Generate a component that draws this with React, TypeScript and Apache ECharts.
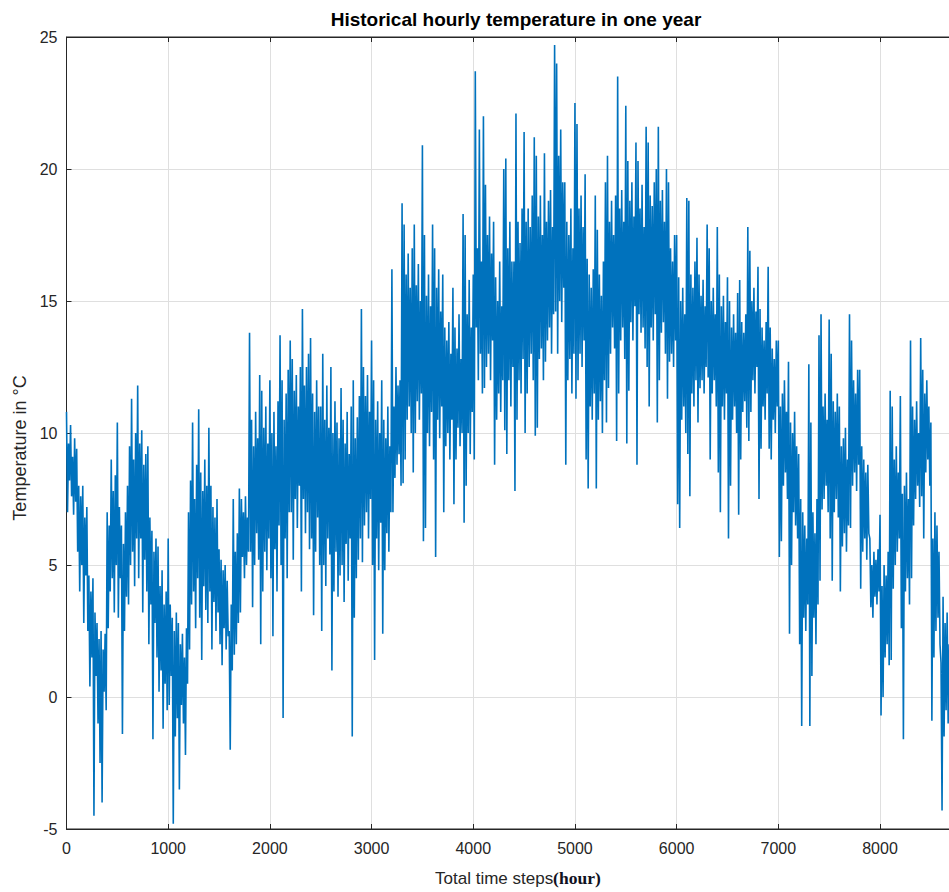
import React, { useEffect, useRef } from "react";
import * as echarts from "echarts";

// Hours between consecutive readings (high / low strokes)
const STEP_HOURS = 10;
const X_MAX = 8760;
const X_TICKS = [0, 1000, 2000, 3000, 4000, 5000, 6000, 7000, 8000];
const Y_TICKS = [-5, 0, 5, 10, 15, 20, 25];

// Temperature readings (°C), 10 per 100 hours, one row per 100 hours
const TEMP_0_1000 = [
  10.8, 7.0, 9.6, 8.2, 10.3, 7.6, 9.1, 6.9, 9.8, 7.4,
  9.4, 5.5, 8.0, 4.0, 7.6, 5.0, 8.0, 2.8, 6.8, 4.6,
  7.2, 2.5, 4.6, 0.4, 4.0, 1.5, 4.5, -4.5, 3.2, 0.8,
  2.8, -1.0, 2.2, -2.5, 2.5, -4.0, 1.8, 0.2, 2.4, -0.5,
  7.0, 2.6, 6.5, 4.0, 9.0, 4.5, 7.8, 3.2, 8.4, 5.0,
  10.4, 3.0, 7.2, 4.5, 6.5, -1.4, 5.8, 2.5, 7.0, 3.8,
  8.0, 3.5, 9.5, 5.0, 11.3, 5.5, 9.0, 4.2, 10.0, 6.0,
  11.8, 4.5, 9.6, 6.0, 10.1, 3.2, 8.8, 5.2, 9.2, 4.0,
  9.5, 2.0, 6.8, 3.5, 6.3, -1.6, 5.5, 2.8, 6.0, 1.5,
  5.7, 0.2, 4.2, 1.0, 4.8, -1.2, 3.5, 0.5, 4.0, -0.5,
];
const TEMP_1000_2000 = [
  6.0, -0.3, 3.5, 0.8, 3.0, -4.8, 2.5, -1.5, 3.2, -0.8,
  2.8, -3.5, 2.0, -0.3, 2.4, -1.0, 1.5, -2.2, 2.6, 0.5,
  7.0, 1.8, 8.2, 3.5, 10.4, 4.0, 7.5, 2.6, 8.8, 4.5,
  10.9, 3.0, 8.5, 1.4, 7.8, 4.2, 9.0, 3.3, 8.0, 2.8,
  10.2, 4.0, 8.0, 1.8, 7.2, 3.6, 6.8, 2.5, 7.5, 3.2,
  5.6, 2.0, 5.2, 1.2, 4.8, 2.6, 5.0, 1.8, 4.4, 2.3,
  2.5, -2.0, 3.5, 1.0, 7.5, 1.6, 5.5, 2.0, 6.2, 2.8,
  7.9, 3.2, 7.5, 5.3, 7.0, 4.5, 7.6, 5.0, 6.8, 5.5,
  13.8, 5.5, 10.5, 3.4, 9.5, 5.0, 10.8, 6.2, 9.8, 5.2,
  12.2, 2.0, 11.6, 4.0, 10.2, 5.5, 11.0, 4.8, 9.6, 6.0,
];
const TEMP_2000_3000 = [
  12.0, 4.5, 10.0, 2.3, 10.8, 5.6, 9.5, 4.0, 11.2, 6.5,
  13.7, 5.0, 12.0, -0.8, 10.5, 6.0, 11.5, 4.5, 12.4, 7.0,
  13.5, 7.0, 12.8, 5.2, 11.6, 7.5, 12.2, 6.4, 11.0, 8.0,
  12.5, 4.0, 14.7, 7.5, 11.8, 6.2, 12.5, 7.0, 13.0, 5.6,
  13.6, 6.0, 11.5, 3.1, 10.8, 5.5, 12.0, 6.8, 11.0, 5.0,
  11.0, 2.5, 13.0, 5.0, 10.5, 4.2, 11.8, 6.0, 10.2, 5.4,
  12.5, 1.0, 10.0, 4.0, 11.2, 5.5, 10.4, 3.8, 9.8, 4.6,
  11.7, 5.0, 10.5, 3.6, 9.6, 5.8, 10.8, 4.4, 9.2, 6.0,
  11.0, -1.5, 12.0, 3.0, 9.8, 4.5, 10.6, 5.2, 11.4, 6.0,
  14.7, 5.1, 12.5, 6.5, 11.4, 7.0, 12.2, 6.0, 10.8, 7.5,
];
const TEMP_3000_4000 = [
  13.5, 5.0, 12.0, 1.4, 10.5, 6.0, 11.2, 4.8, 10.0, 6.6,
  12.0, 2.4, 10.5, 4.8, 9.8, 6.2, 11.0, 5.5, 9.5, 7.0,
  16.2, 7.0, 11.0, 8.3, 12.5, 8.8, 11.8, 9.2, 12.0, 8.0,
  18.7, 8.1, 17.9, 9.0, 16.0, 10.5, 16.8, 11.0, 15.5, 10.0,
  17.0, 8.5, 17.9, 10.0, 15.6, 11.2, 16.4, 10.5, 15.0, 11.5,
  20.9, 5.9, 17.5, 6.4, 15.2, 10.0, 16.0, 9.5, 14.8, 10.8,
  17.9, 9.0, 17.0, 5.3, 15.5, 10.5, 16.2, 9.8, 14.6, 11.0,
  16.0, 7.0, 14.0, 9.5, 13.5, 10.0, 14.2, 9.0, 13.0, 10.5,
  15.5, 7.3, 14.0, 9.0, 13.2, 10.2, 14.5, 9.5, 12.8, 10.0,
  18.3, 6.6, 17.5, 8.0, 14.5, 10.0, 15.8, 9.2, 14.0, 10.8,
];
const TEMP_4000_5000 = [
  16.0, 9.0, 23.7, 14.0, 17.0, 12.0, 21.5, 13.0, 16.5, 11.5,
  22.0, 11.7, 19.4, 12.5, 17.5, 13.0, 18.2, 12.0, 16.8, 13.5,
  18.0, 8.8, 15.9, 10.5, 15.0, 11.5, 16.5, 10.8, 14.8, 12.0,
  20.0, 10.1, 20.4, 9.2, 17.0, 12.0, 18.0, 11.0, 16.5, 12.5,
  16.5, 7.8, 22.1, 10.5, 18.0, 12.0, 17.2, 11.5, 18.5, 12.8,
  21.4, 10.0, 18.0, 11.5, 18.5, 12.5, 17.8, 13.0, 19.0, 12.0,
  21.2, 9.9, 20.5, 10.2, 18.2, 12.8, 19.0, 13.2, 17.5, 12.0,
  20.6, 12.7, 18.0, 13.5, 18.8, 14.0, 19.2, 13.0, 17.8, 14.5,
  24.7, 14.6, 24.0, 13.0, 20.5, 15.0, 21.5, 14.2, 19.5, 15.5,
  19.5, 8.8, 18.0, 12.0, 17.5, 12.8, 18.5, 11.5, 17.0, 13.0,
];
const TEMP_5000_6000 = [
  22.5, 11.3, 21.7, 12.0, 18.5, 13.0, 19.0, 12.5, 17.8, 13.5,
  19.8, 9.0, 16.6, 7.9, 16.0, 11.0, 15.5, 10.5, 16.2, 11.5,
  19.0, 7.9, 17.7, 10.5, 16.0, 11.2, 15.2, 10.0, 16.5, 12.0,
  19.5, 10.4, 20.5, 11.7, 18.0, 13.0, 18.8, 14.0, 17.5, 13.2,
  19.0, 9.7, 23.5, 11.5, 18.5, 13.5, 19.2, 14.0, 18.0, 12.8,
  22.4, 9.6, 20.3, 11.6, 18.8, 14.2, 19.5, 13.5, 18.2, 14.8,
  21.0, 8.8, 20.3, 14.5, 18.5, 13.8, 19.4, 14.0, 17.8, 13.2,
  21.6, 12.5, 21.0, 11.0, 19.0, 14.0, 18.6, 13.5, 19.5, 14.5,
  20.0, 10.4, 21.6, 12.0, 18.8, 13.8, 19.2, 14.2, 18.0, 13.0,
  20.0, 11.3, 19.5, 12.7, 17.0, 13.0, 16.5, 12.5, 17.5, 13.5,
];
const TEMP_6000_7000 = [
  17.5, 7.3, 15.9, 6.4, 15.0, 10.5, 15.5, 11.0, 14.5, 10.0,
  18.9, 9.2, 18.8, 7.6, 16.0, 11.5, 15.5, 11.0, 16.5, 12.0,
  17.4, 10.4, 16.0, 11.7, 15.2, 12.0, 15.8, 11.5, 14.8, 12.5,
  17.9, 12.1, 17.0, 9.0, 15.0, 11.5, 15.5, 12.0, 14.5, 11.0,
  17.8, 8.5, 16.0, 7.0, 14.8, 11.0, 15.2, 10.5, 14.2, 11.5,
  15.9, 6.0, 15.0, 8.0, 14.0, 10.5, 14.5, 11.0, 13.8, 10.0,
  15.3, 6.9, 15.8, 9.0, 14.2, 10.8, 13.8, 11.2, 14.5, 10.2,
  17.8, 9.7, 16.9, 10.8, 15.0, 12.0, 15.5, 11.5, 14.6, 12.5,
  16.3, 7.5, 14.7, 9.4, 14.0, 11.0, 13.5, 10.5, 14.2, 11.5,
  16.3, 9.4, 14.0, 9.0, 13.2, 10.5, 12.8, 10.0, 13.5, 11.0,
];
const TEMP_7000_8000 = [
  13.5, 5.3, 11.0, 5.9, 11.5, 8.0, 12.0, 8.5, 10.8, 7.5,
  12.7, 2.4, 10.4, 5.0, 10.0, 7.0, 10.8, 6.5, 9.5, 6.0,
  9.2, 2.0, 7.5, -1.1, 7.0, 3.0, 6.5, 2.5, 6.0, 3.5,
  12.6, -1.1, 10.4, 0.8, 7.0, 3.0, 6.2, 2.0, 7.5, 3.5,
  13.7, 4.4, 14.5, 7.1, 11.0, 7.5, 11.5, 8.0, 10.5, 7.0,
  14.3, 6.0, 13.0, 4.4, 11.2, 7.0, 10.8, 7.5, 11.5, 6.8,
  11.0, 4.0, 9.5, 5.7, 9.8, 6.2, 10.2, 5.5, 9.0, 6.5,
  14.5, 6.4, 13.5, 8.0, 12.0, 8.5, 11.5, 7.8, 12.4, 8.8,
  12.4, 4.1, 9.5, 5.5, 9.0, 6.0, 8.5, 5.2, 8.8, 6.2,
  6.0, 3.4, 5.0, 3.0, 5.5, 3.8, 5.2, 3.5, 5.6, 4.0,
];
const TEMP_8000_8760 = [
  6.9, -0.7, 4.2, 0.0, 5.0, 1.5, 4.6, 2.0, 5.5, 1.2,
  11.6, 1.4, 11.0, 4.1, 9.0, 5.0, 9.5, 5.5, 8.5, 6.0,
  11.4, 2.6, 7.7, -1.6, 8.0, 4.0, 8.5, 4.5, 7.5, 3.5,
  13.5, 4.5, 11.0, 6.5, 10.5, 7.5, 11.2, 8.0, 10.0, 7.2,
  13.6, 7.6, 12.4, 6.0, 11.5, 8.5, 12.0, 9.0, 11.0, 8.0,
  10.4, -0.9, 6.0, 1.5, 7.0, 2.5, 6.5, 3.0, 5.5, 2.0,
  1.3, -4.3, 3.8, -1.5, 2.8, -0.5, 3.2, -1.0, 2.0, 0.0,
  4.4, -2.0, 3.0, 0.5, 3.5, 1.0,
];

const TEMPERATURES = [
  ...TEMP_0_1000, ...TEMP_1000_2000, ...TEMP_2000_3000, ...TEMP_3000_4000, ...TEMP_4000_5000,
  ...TEMP_5000_6000, ...TEMP_6000_7000, ...TEMP_7000_8000, ...TEMP_8000_8760,
];

const FONT = "'Liberation Sans', Arial, Helvetica, sans-serif";
const TEXT_COLOR = "#262626";

export default function App() {
  const ref = useRef<HTMLDivElement>(null);

  useEffect(() => {
    if (!ref.current) return;
    const chart = echarts.init(ref.current, undefined, { renderer: "svg" });
    const data = TEMPERATURES.map((v, i) => [i * STEP_HOURS, v]);

    chart.setOption({
      animation: false,
      backgroundColor: "#ffffff",
      title: {
        text: "Historical hourly temperature in one year",
        left: 511,
        top: 5,
        textAlign: "center",
        textStyle: { fontFamily: FONT, fontSize: 19, fontWeight: "bold", color: "#000000" },
      },
      grid: {
        left: 66.5,
        top: 37,
        width: 890.8,
        height: 792,
        show: true,
        borderColor: TEXT_COLOR,
        borderWidth: 1,
        backgroundColor: "#ffffff",
      },
      xAxis: [
        {
          type: "value",
          min: 0,
          max: X_MAX,
          interval: X_TICKS[1] - X_TICKS[0],
          name: "{a|Total time steps}{b|(hour)}",
          nameLocation: "middle",
          nameGap: 40,
          nameTextStyle: {
            padding: [0, 0, 0, 12],
            rich: {
              a: { fontFamily: FONT, fontSize: 17, color: TEXT_COLOR },
              b: { fontFamily: "'Liberation Serif', 'Times New Roman', serif", fontSize: 17.5, color: "#111122", fontWeight: "bold" },
            },
          },
          axisLine: { show: true, onZero: false, lineStyle: { color: TEXT_COLOR, width: 1 } },
          axisTick: { show: true, inside: true, length: 5, lineStyle: { color: TEXT_COLOR } },
          axisLabel: {
            fontFamily: FONT,
            fontSize: 16,
            color: TEXT_COLOR,
            margin: 11,
            formatter: (v: number) => (X_TICKS.includes(v) ? String(v) : ""),
          },
          splitLine: { show: true, lineStyle: { color: "#dfdfdf", width: 1 } },
        },
        {
          type: "value",
          position: "top",
          min: 0,
          max: X_MAX,
          interval: X_TICKS[1] - X_TICKS[0],
          axisLine: { show: true, onZero: false, lineStyle: { color: TEXT_COLOR, width: 1 } },
          axisTick: { show: true, inside: true, length: 5, lineStyle: { color: TEXT_COLOR } },
          axisLabel: { show: false },
          splitLine: { show: false },
        },
      ],
      yAxis: {
        type: "value",
        min: Y_TICKS[0],
        max: Y_TICKS[Y_TICKS.length - 1],
        interval: Y_TICKS[1] - Y_TICKS[0],
        name: "Temperature in °C",
        nameLocation: "middle",
        nameGap: 35,
        nameTextStyle: { fontFamily: FONT, fontSize: 18, color: TEXT_COLOR, padding: [0, 30, 0, 0] },
        axisLine: { show: true, onZero: false, lineStyle: { color: TEXT_COLOR, width: 1 } },
        axisTick: { show: true, inside: true, length: 5, lineStyle: { color: TEXT_COLOR } },
        axisLabel: { fontFamily: FONT, fontSize: 16, color: TEXT_COLOR, margin: 9 },
        splitLine: { show: true, lineStyle: { color: "#dfdfdf", width: 1 } },
      },
      series: [
        {
          type: "line",
          data,
          showSymbol: false,
          symbol: "none",
          lineStyle: { color: "#0072BD", width: 1.6 },
          xAxisIndex: 0,
          silent: true,
        },
      ],
    });

    return () => chart.dispose();
  }, []);

  return (
    <div
      style={{
        position: "fixed",
        left: 0,
        top: 0,
        width: 949,
        height: 892,
        overflow: "hidden",
        background: "#ffffff",
      }}
    >
      <div ref={ref} style={{ width: 990, height: 892 }} />
    </div>
  );
}
